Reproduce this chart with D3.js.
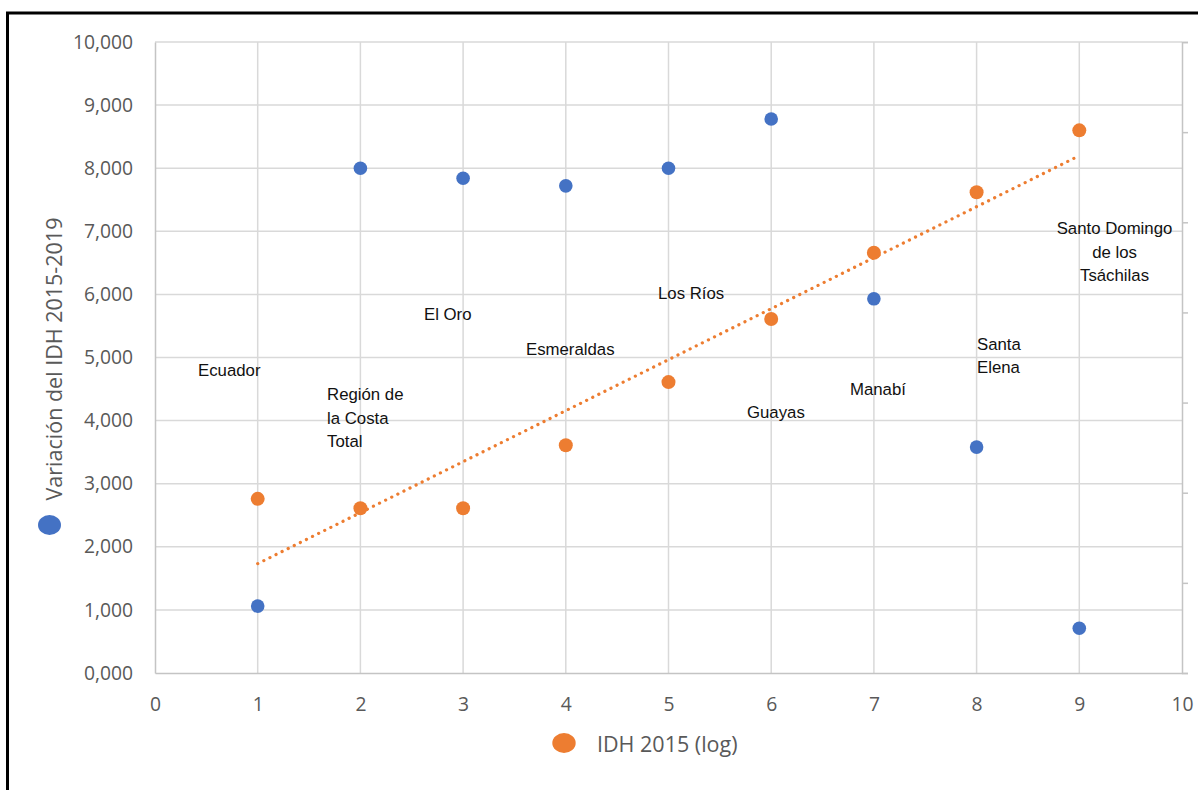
<!DOCTYPE html>
<html>
<head>
<meta charset="utf-8">
<script src="https://cdn.jsdelivr.net/npm/d3@7"></script>
<style>
  html, body { margin: 0; padding: 0; background: #fff; }
  svg { display: block; }
</style>
</head>
<body>
<svg id="chart" width="1198" height="790"></svg>
<script>
// ---- data ----
const categories = ["Ecuador", "Región de la Costa Total", "El Oro", "Esmeraldas", "Los Ríos",
                    "Guayas", "Manabí", "Santa Elena", "Santo Domingo de los Tsáchilas"];
const xValues = [1, 2, 3, 4, 5, 6, 7, 8, 9];
const variacionIDH = [1.06, 8.00, 7.84, 7.72, 8.00, 8.78, 5.93, 3.58, 0.71];   // blue
const idh2015Log   = [2.76, 2.61, 2.61, 3.61, 4.61, 5.61, 6.66, 7.62, 8.60];   // orange
const xTicks = [0, 1, 2, 3, 4, 5, 6, 7, 8, 9, 10];
const yTicks = [0, 1, 2, 3, 4, 5, 6, 7, 8, 9, 10];
const yTickLabels = ["0,000", "1,000", "2,000", "3,000", "4,000", "5,000", "6,000", "7,000", "8,000", "9,000", "10,000"];
const seriesNames = ["Variación del IDH 2015-2019", "IDH 2015 (log)"];
// category label lines
const labelLines = [["Ecuador"], ["Región de", "la Costa", "Total"], ["El Oro"], ["Esmeraldas"], ["Los Ríos"],
                    ["Guayas"], ["Manabí"], ["Santa", "Elena"], ["Santo Domingo", "de los", "Tsáchilas"]];

// ---- layout (label anchors in data units) ----
const labelAnchor = [
  {x: 0.419, y: 4.707, a: "start"},
  {x: 1.675, y: 4.326, a: "start"},
  {x: 2.619, y: 5.594, a: "start"},
  {x: 3.612, y: 5.040, a: "start"},
  {x: 4.898, y: 5.927, a: "start"},
  {x: 5.764, y: 4.041, a: "start"},
  {x: 6.767, y: 4.406, a: "start"},
  {x: 8.004, y: 5.119, a: "start"},
  {x: 9.343, y: 6.957, a: "middle"}
];

const BLUE = "#4472c4", ORANGE = "#ed7d31", GRID = "#d9d9d9", AXIS = "#c4c4c4", TXT = "#595959";
const svg = d3.select("#chart");
const m = {left: 155, top: 42, right: 1198 - 1182, bottom: 790 - 673};
const W = 1198 - m.left - m.right, H = 790 - m.top - m.bottom;

// frame
svg.append("rect").attr("x", 7.5).attr("y", 13).attr("width", 1250).attr("height", 850)
  .attr("fill", "none").attr("stroke", "#000").attr("stroke-width", 3);

const g = svg.append("g").attr("transform", `translate(${m.left},${m.top})`);
const x = d3.scaleLinear().domain([0, 10]).range([0, W]);
const y = d3.scaleLinear().domain([0, 10]).range([H, 0]);
const y2 = d3.scaleLinear().domain([0, 7]).range([H, 0]);

// gridlines
g.append("g").selectAll("line").data(yTicks.filter(d => d > 0)).join("line")
  .attr("x1", 0).attr("x2", W).attr("y1", d => y(d)).attr("y2", d => y(d))
  .attr("stroke", GRID).attr("stroke-width", 1.5);
g.append("g").selectAll("line").data(xTicks.filter(d => d > 0 && d < 10)).join("line")
  .attr("y1", 0).attr("y2", H).attr("x1", d => x(d)).attr("x2", d => x(d))
  .attr("stroke", GRID).attr("stroke-width", 1.5);

// axes
const yAxis = g.append("g").call(d3.axisLeft(y).tickValues(yTicks).tickSize(0).tickPadding(22)
  .tickFormat((d, i) => yTickLabels[i]));
const xAxis = g.append("g").attr("transform", `translate(0,${H})`)
  .call(d3.axisBottom(x).tickValues(xTicks).tickSize(0).tickPadding(24).tickFormat(d3.format("d")));
const rAxis = g.append("g").attr("transform", `translate(${W},0)`)
  .call(d3.axisRight(y2).tickValues(d3.range(0, 8)).tickSize(6).tickFormat(""));
[yAxis, xAxis, rAxis].forEach(a => {
  a.select(".domain").attr("stroke", AXIS).attr("stroke-width", 1.5);
  a.selectAll(".tick line").attr("stroke", AXIS).attr("stroke-width", 1.5);
  a.selectAll("text").attr("fill", TXT).attr("font-family", "'Open Sans', sans-serif").attr("font-size", 19.3);
});

// trendline (least squares on orange series)
const mx = d3.mean(xValues), my = d3.mean(idh2015Log);
const slope = d3.sum(xValues, (d, i) => (d - mx) * (idh2015Log[i] - my)) / d3.sum(xValues, d => (d - mx) ** 2);
const icpt = my - slope * mx;
const x0 = d3.min(xValues), x1 = d3.max(xValues);
g.append("line")
  .attr("x1", x(x0)).attr("y1", y(icpt + slope * x0))
  .attr("x2", x(x1)).attr("y2", y(icpt + slope * x1))
  .attr("stroke", ORANGE).attr("stroke-width", 3.2).attr("stroke-linecap", "round")
  .attr("stroke-dasharray", "0.1 6.7");

// points
g.append("g").selectAll("circle").data(xValues).join("circle")
  .attr("cx", d => x(d)).attr("cy", (d, i) => y(variacionIDH[i])).attr("r", 6.8).attr("fill", BLUE);
g.append("g").selectAll("circle").data(xValues).join("circle")
  .attr("cx", d => x(d)).attr("cy", (d, i) => y(idh2015Log[i])).attr("r", 7).attr("fill", ORANGE);

// category labels
const lg = g.append("g").attr("font-family", "'Liberation Sans', Arial, sans-serif")
  .attr("font-size", 16.8).attr("fill", "#111");
categories.forEach((c, i) => {
  const a = labelAnchor[i];
  const t = lg.append("text").attr("x", x(a.x)).attr("y", y(a.y)).attr("text-anchor", a.a);
  labelLines[i].forEach((ln, j) => {
    t.append("tspan").attr("x", x(a.x)).attr("dy", j === 0 ? 0 : 23.5).text(ln);
  });
});

// axis titles with legend markers
svg.append("text").attr("transform", "translate(62,359) rotate(-90)")
  .attr("text-anchor", "middle").attr("font-family", "'Open Sans', sans-serif").attr("font-size", 21.5)
  .attr("fill", TXT).text(seriesNames[0]);
svg.append("ellipse").attr("cx", 49.5).attr("cy", 525).attr("rx", 11.5).attr("ry", 10).attr("fill", BLUE);

svg.append("text").attr("x", 597).attr("y", 752)
  .attr("font-family", "'Open Sans', sans-serif").attr("font-size", 21.5)
  .attr("fill", TXT).text(seriesNames[1]);
svg.append("ellipse").attr("cx", 564).attr("cy", 743).attr("rx", 11.7).attr("ry", 10).attr("fill", ORANGE);
</script>
</body>
</html>
